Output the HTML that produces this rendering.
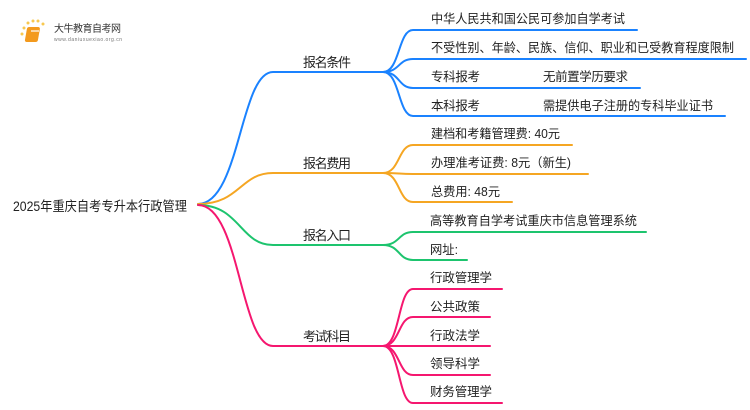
<!DOCTYPE html>
<html><head><meta charset="utf-8"><style>
html,body{margin:0;padding:0;background:#fff;}
svg{display:block;}
text{font-family:"Liberation Sans","Noto Sans CJK SC",sans-serif;fill:#222;}
</style></head><body>
<svg width="750" height="410" viewBox="0 0 750 410" xmlns="http://www.w3.org/2000/svg">
<g fill="none" stroke-width="2" stroke-linecap="round">
<g stroke="#1a82ff">
<path d="M198,204 C240,204 240,72 273,72 L383,72"/>
<path d="M383,72 C400,72 398,30 413,30 L637,30"/>
<path d="M383,72 C400,72 398,59 413,59 L746,59"/>
<path d="M383,72 C400,72 398,88 413,88 L640,88"/>
<path d="M383,72 C400,72 398,116 413,116 L725,116"/>
</g>
<g stroke="#f5a623">
<path d="M198,204 C240,204 240,173 273,173 L383,173"/>
<path d="M383,173 C400,173 398,145 413,145 L572,145"/>
<path d="M383,173 C400,173 398,174 413,174 L588,174"/>
<path d="M383,173 C400,173 398,202 413,202 L512,202"/>
</g>
<g stroke="#1dc46e">
<path d="M198,205 C240,205 240,245 273,245 L383,245"/>
<path d="M383,245 C400,245 398,232 413,232 L646,232"/>
<path d="M383,245 C400,245 398,260 413,260 L467,260"/>
</g>
<g stroke="#f5176f">
<path d="M198,205 C240,205 240,346 273,346 L383,346"/>
<path d="M383,346 C400,346 398,289 413,289 L502,289"/>
<path d="M383,346 C400,346 398,317 413,317 L490,317"/>
<path d="M383,346 C400,346 398,346 413,346 L490,346"/>
<path d="M383,346 C400,346 398,375 413,375 L490,375"/>
<path d="M383,346 C400,346 398,403 413,403 L502,403"/>
</g>
</g>
<g>
<circle cx="24" cy="28" r="1.5" fill="#f8c850"/><circle cx="28" cy="23" r="1.5" fill="#f8c850"/><circle cx="33" cy="21" r="1.5" fill="#f8c850"/><circle cx="38" cy="21" r="1.5" fill="#f8c850"/><circle cx="43" cy="24" r="1.5" fill="#f8c850"/><circle cx="22" cy="34" r="1.5" fill="#f8c850"/>
<rect x="32" y="27" width="13" height="15" rx="2" fill="#f39a1e" transform="skewX(-10)"/>
<rect x="31" y="30" width="8" height="2" fill="#fff" opacity=".6"/>
</g>
<text x="54" y="32" font-size="10" textLength="67" style="fill:#333">大牛教育自考网</text>
<text x="54" y="41" font-size="5" textLength="68" style="fill:#777">www.daniuxuexiao.org.cn</text>
<text x="13" y="211" font-size="13.5" textLength="174" lengthAdjust="spacingAndGlyphs">2025年重庆自考专升本行政管理</text>
<g font-size="13">
<text x="303" y="67" textLength="48">报名条件</text>
<text x="303" y="168" textLength="48">报名费用</text>
<text x="303" y="240" textLength="48">报名入口</text>
<text x="303" y="341" textLength="48">考试科目</text>
</g>
<g font-size="12.5">
<text x="431" y="23" textLength="194" lengthAdjust="spacingAndGlyphs">中华人民共和国公民可参加自学考试</text>
<text x="431" y="52" textLength="303" lengthAdjust="spacingAndGlyphs">不受性别、年龄、民族、信仰、职业和已受教育程度限制</text>
<text x="431" y="81" textLength="49">专科报考</text><text x="543" y="81" textLength="85">无前置学历要求</text>
<text x="431" y="110" textLength="49">本科报考</text><text x="543" y="110" textLength="170" lengthAdjust="spacingAndGlyphs">需提供电子注册的专科毕业证书</text>
<text x="431" y="138" textLength="129" lengthAdjust="spacingAndGlyphs">建档和考籍管理费: 40元</text>
<text x="431" y="167" textLength="140" lengthAdjust="spacingAndGlyphs">办理准考证费: 8元（新生)</text>
<text x="431" y="196" textLength="69" lengthAdjust="spacingAndGlyphs">总费用: 48元</text>
<text x="430" y="225" textLength="207" lengthAdjust="spacingAndGlyphs">高等教育自学考试重庆市信息管理系统</text>
<text x="430" y="254" textLength="28" lengthAdjust="spacingAndGlyphs">网址:</text>
<text x="430" y="282" textLength="62">行政管理学</text>
<text x="430" y="311" textLength="50">公共政策</text>
<text x="430" y="340" textLength="50">行政法学</text>
<text x="430" y="368" textLength="50">领导科学</text>
<text x="430" y="396" textLength="62">财务管理学</text>
</g>
</svg>
</body></html>
